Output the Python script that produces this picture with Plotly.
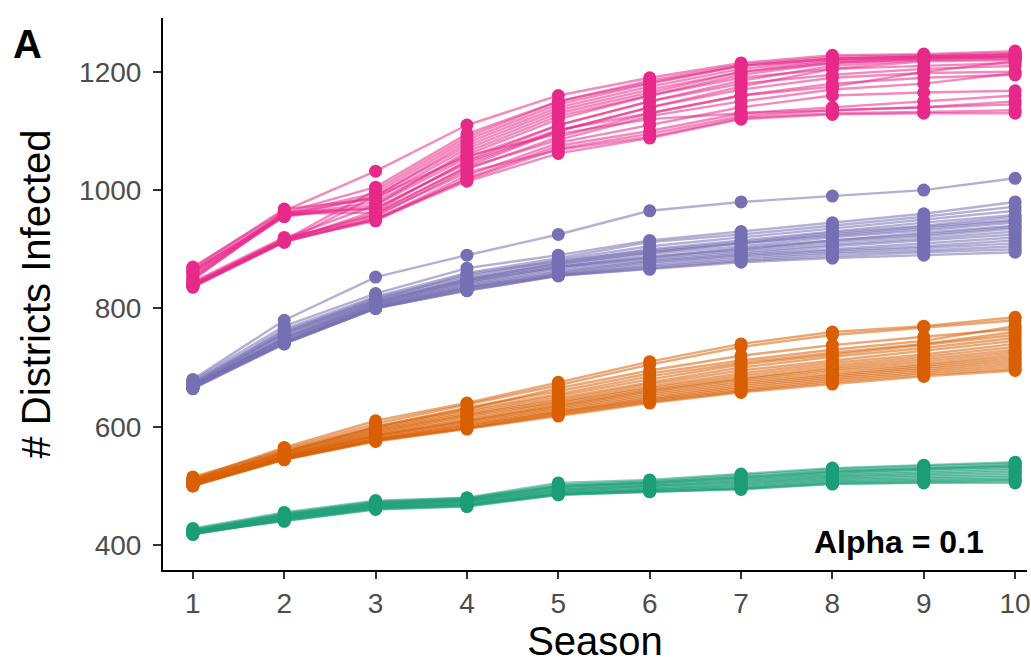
import plotly.graph_objects as go

seasons = [1, 2, 3, 4, 5, 6, 7, 8, 9, 10]

pink_runs = [
    [870, 965, 1032, 1110, 1160, 1190, 1215, 1228, 1230, 1235],
    [865, 962, 1005, 1095, 1150, 1185, 1212, 1225, 1228, 1232],
    [862, 960, 995, 1085, 1145, 1180, 1210, 1222, 1226, 1230],
    [858, 958, 990, 1080, 1140, 1175, 1205, 1220, 1225, 1228],
    [868, 968, 985, 1070, 1130, 1165, 1200, 1218, 1224, 1226],
    [860, 956, 980, 1060, 1120, 1160, 1195, 1215, 1222, 1225],
    [855, 955, 975, 1055, 1110, 1150, 1185, 1210, 1220, 1222],
    [850, 957, 970, 1045, 1100, 1140, 1175, 1205, 1218, 1220],
    [840, 915, 1000, 1090, 1150, 1182, 1210, 1222, 1226, 1230],
    [838, 912, 990, 1075, 1135, 1170, 1200, 1215, 1222, 1225],
    [842, 918, 975, 1065, 1125, 1160, 1190, 1205, 1210, 1215],
    [836, 914, 965, 1050, 1110, 1150, 1180, 1195, 1205, 1210],
    [840, 916, 960, 1040, 1100, 1140, 1170, 1190, 1198, 1200],
    [838, 913, 955, 1035, 1090, 1130, 1160, 1180, 1190, 1195],
    [845, 920, 950, 1025, 1080, 1110, 1140, 1160, 1165, 1168],
    [840, 915, 948, 1020, 1075, 1100, 1130, 1140, 1150, 1160],
    [836, 912, 952, 1018, 1070, 1095, 1125, 1135, 1140, 1150],
    [842, 917, 958, 1030, 1068, 1090, 1122, 1130, 1132, 1135],
    [838, 913, 950, 1015, 1062, 1088, 1120, 1128, 1130, 1130],
    [848, 960, 962, 1038, 1085, 1125, 1150, 1170, 1180, 1198],
    [864, 957, 988, 1058, 1095, 1120, 1130, 1135, 1140, 1145],
    [852, 963, 968, 1048, 1102, 1130, 1160, 1175, 1200, 1218],
]

purple_runs = [
    [680, 780, 853, 890, 925, 965, 980, 990, 1000, 1020],
    [678, 770, 825, 868, 890, 915, 930, 945, 960, 980],
    [675, 765, 820, 860, 885, 912, 925, 940, 955, 972],
    [672, 760, 818, 855, 882, 905, 920, 935, 950, 965],
    [670, 758, 815, 852, 878, 900, 915, 930, 945, 958],
    [668, 755, 812, 850, 875, 895, 910, 925, 938, 950],
    [666, 752, 810, 848, 872, 892, 905, 920, 932, 945],
    [665, 750, 808, 845, 870, 888, 900, 915, 928, 940],
    [670, 748, 806, 842, 868, 885, 898, 912, 922, 935],
    [672, 746, 805, 840, 865, 882, 895, 908, 918, 930],
    [668, 745, 804, 838, 862, 880, 892, 905, 915, 925],
    [665, 744, 803, 836, 860, 878, 890, 900, 910, 920],
    [670, 742, 802, 835, 858, 875, 888, 898, 905, 915],
    [666, 742, 801, 834, 857, 872, 885, 895, 902, 910],
    [664, 740, 800, 832, 856, 870, 882, 892, 898, 905],
    [668, 741, 800, 830, 855, 868, 880, 888, 895, 900],
    [665, 740, 800, 830, 855, 866, 878, 885, 890, 895],
    [675, 762, 815, 858, 880, 898, 912, 928, 940, 955],
    [672, 757, 812, 848, 876, 895, 910, 922, 935, 948],
    [669, 750, 808, 845, 870, 886, 902, 915, 925, 938],
]

orange_runs = [
    [512, 565, 610, 640, 675, 710, 740, 760, 770, 785],
    [510, 562, 605, 638, 670, 705, 735, 755, 768, 780],
    [515, 560, 600, 632, 660, 690, 712, 730, 745, 770],
    [508, 558, 598, 628, 655, 685, 708, 725, 740, 760],
    [512, 556, 596, 625, 652, 680, 705, 722, 738, 755],
    [506, 555, 594, 622, 648, 675, 700, 718, 733, 750],
    [510, 553, 592, 620, 645, 672, 695, 712, 728, 745],
    [504, 552, 590, 618, 642, 668, 690, 708, 722, 740],
    [508, 551, 588, 615, 640, 665, 686, 704, 718, 735],
    [502, 550, 586, 612, 637, 662, 682, 700, 714, 730],
    [506, 549, 585, 610, 635, 660, 680, 697, 710, 726],
    [500, 548, 584, 608, 632, 657, 677, 694, 706, 722],
    [504, 548, 582, 606, 630, 654, 674, 690, 703, 718],
    [500, 547, 580, 604, 628, 651, 671, 687, 700, 714],
    [503, 546, 579, 602, 626, 648, 668, 684, 697, 710],
    [500, 545, 578, 600, 624, 646, 665, 681, 694, 706],
    [502, 545, 577, 598, 622, 644, 662, 678, 691, 702],
    [500, 544, 576, 597, 620, 642, 660, 675, 688, 698],
    [501, 545, 575, 596, 618, 640, 658, 672, 685, 695],
    [507, 557, 600, 630, 665, 695, 720, 738, 752, 765],
]

green_runs = [
    [428, 455, 475, 480, 505, 510, 520, 530, 535, 540],
    [426, 453, 473, 479, 502, 508, 518, 528, 533, 538],
    [425, 452, 472, 478, 500, 506, 515, 525, 530, 535],
    [424, 450, 470, 476, 498, 504, 512, 522, 528, 532],
    [423, 449, 469, 475, 496, 502, 510, 520, 525, 530],
    [422, 448, 468, 474, 494, 500, 508, 518, 522, 527],
    [421, 447, 467, 473, 493, 499, 506, 516, 520, 524],
    [420, 446, 466, 472, 491, 497, 504, 514, 518, 521],
    [419, 445, 465, 470, 490, 495, 502, 512, 515, 518],
    [418, 444, 464, 469, 488, 494, 500, 510, 513, 515],
    [418, 443, 463, 468, 487, 492, 498, 508, 510, 512],
    [420, 442, 462, 467, 486, 491, 496, 506, 508, 510],
    [419, 441, 461, 466, 485, 490, 495, 504, 506, 508],
    [421, 440, 460, 465, 485, 490, 494, 503, 505, 505],
    [424, 451, 471, 477, 499, 505, 514, 524, 529, 534],
]

y_ticks = [400, 600, 800, 1000, 1200]

groups = [
    (green_runs, "#1B9E77", "rgba(27,158,119,0.55)"),
    (orange_runs, "#D95F02", "rgba(217,95,2,0.55)"),
    (purple_runs, "#7570B3", "rgba(117,112,179,0.55)"),
    (pink_runs, "#E7298A", "rgba(231,41,138,0.55)"),
]

fig = go.Figure()
for runs, mcol, lcol in groups:
    for run in runs:
        fig.add_trace(go.Scatter(
            x=seasons, y=run, mode="lines+markers",
            line=dict(color=lcol, width=2.4),
            marker=dict(color=mcol, size=13, line=dict(width=0)),
            showlegend=False, hoverinfo="skip",
        ))

font_family = "Liberation Sans, Arial, Helvetica, sans-serif"
fig.update_layout(
    width=1031, height=664,
    margin=dict(l=163, r=0, t=18, b=94),
    plot_bgcolor="white", paper_bgcolor="white",
    font=dict(family=font_family),
)
fig.update_xaxes(
    range=[0.673, 10.13], tickvals=seasons, ticktext=[str(s) for s in seasons],
    showgrid=False, zeroline=False, showline=True, linecolor="black", linewidth=2,
    ticks="outside", ticklen=7, tickwidth=1.5, tickcolor="#333333",
    tickfont=dict(size=28, color="#4D4D4D"), ticklabeloverflow="allow",
    title=dict(text="Season", font=dict(size=40, color="black"), standoff=6),
)
fig.update_yaxes(
    range=[357.7, 1291], tickvals=y_ticks,
    showgrid=False, zeroline=False, showline=True, linecolor="black", linewidth=2,
    ticks="outside", ticklen=8, tickwidth=1.5, tickcolor="#333333",
    tickfont=dict(size=28, color="#4D4D4D"), ticklabelstandoff=6,
    title=dict(text="# Districts Infected", font=dict(size=40, color="black"), standoff=16),
)
fig.add_annotation(
    text="<b>A</b>", xref="paper", yref="paper", x=-163/868, y=1.0,
    xanchor="left", yanchor="top", xshift=10, yshift=-2, showarrow=False,
    font=dict(size=40, color="black"),
)
fig.add_annotation(
    text="<b>Alpha = 0.1</b>", xref="paper", yref="paper", x=(990-163)/868, y=0.0,
    xanchor="right", yanchor="bottom", yshift=8, showarrow=False,
    font=dict(size=32, color="black"),
)
fig.write_html("out.html")
